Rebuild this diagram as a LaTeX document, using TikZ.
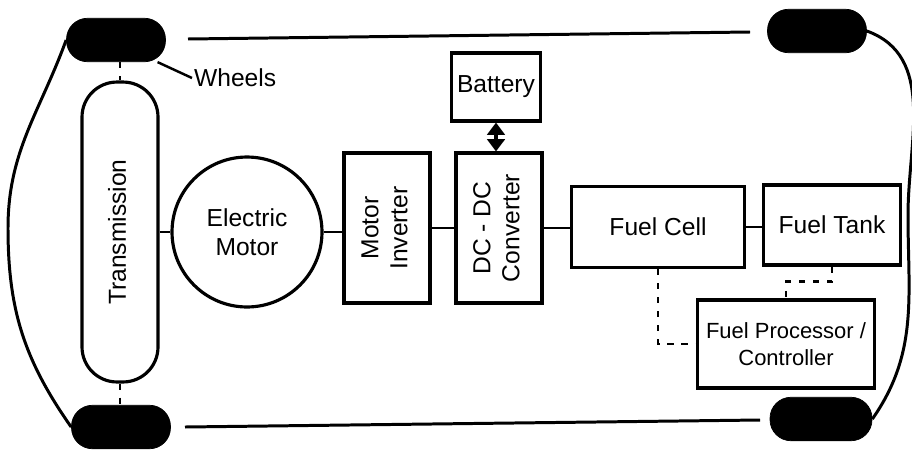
\documentclass[tikz,border=0pt]{standalone}
\usepackage{fontspec}
\setmainfont{Liberation Sans}
\usetikzlibrary{arrows.meta,positioning,calc}
\newcommand{\uptext}[1]{\rotatebox{90}{\begin{tabular}{@{}c@{}}#1\end{tabular}}}

\begin{document}
\begin{tikzpicture}[x=0.02cm,y=-0.02cm,>={Triangle[width=10pt,length=7pt]}]
  \tikzstyle{box}=[draw,line width=1.8pt,align=center,font=\fontsize{14}{16.5}\selectfont]
  \tikzstyle{wheel}=[draw,fill=black,rounded corners=0.42cm,minimum width=1.98cm,minimum height=0.87cm]
  \tikzstyle{body}=[line width=1.7pt]
  \tikzstyle{link}=[line width=1.4pt]
  \tikzstyle{fuelline}=[line width=1.5pt,dash pattern=on 3.5pt off 4.5pt]
  \useasboundingbox (0,0) rectangle (912,450);
  % wheels
  \node[wheel] (wheelTL) at (116,40) {};
  \node[wheel] (wheelBL) at (121,427) {};
  \node[wheel] (wheelTR) at (817,31) {};
  \node[wheel,minimum width=2.04cm] (wheelBR) at (821,419) {};
  \node[anchor=west,inner sep=1pt,font=\fontsize{14}{16.5}\selectfont] (wlabel) at (192,78) {Wheels};
  \draw[link] (wheelTL.-28) -- (wlabel.west);
  % car body
  \draw[body] (188,39) -- (750,32);
  \draw[body] (185,427) -- (760,420);
  \draw[body] (wheelTL.west) to[out=250,in=90] (8,228) to[out=-90,in=125] (wheelBL.west);
  \draw[body] (wheelTR.east) to[out=-20,in=90] (908,215) to[out=-90,in=55] (wheelBR.east);
  % drive train
  \node[box,rounded corners=0.7cm,minimum width=1.52cm,minimum height=6cm] (trans) at (120,232) {\uptext{Transmission}};
  \node[box,circle,minimum size=3cm] (motor) at (247,232) {Electric\\Motor};
  \node[box,minimum width=1.72cm,minimum height=3cm] (inv) at (387,228) {\uptext{Motor\\Inverter}};
  \node[box,minimum width=1.72cm,minimum height=3cm] (dcdc) at (499,228) {\uptext{DC - DC\\Converter}};
  \node[box,minimum width=1.76cm,minimum height=1.36cm] (batt) at (496,87) {Battery};
  \node[box,minimum width=3.46cm,minimum height=1.62cm] (cell) at (658,227) {Fuel Cell};
  \node[box,minimum width=2.74cm,minimum height=1.6cm] (tank) at (832,225) {Fuel Tank};
  \node[box,minimum width=3.54cm,minimum height=1.76cm,font=\fontsize{12.5}{15}\selectfont] (proc) at (786,344) {Fuel Processor /\\Controller};
  \draw[fuelline] (trans.north |- wheelTL.south) -- (trans.north);
  \draw[fuelline] (trans.south) -- (trans.south |- wheelBL.north);
  \draw[link] (trans) -- (motor);
  \draw[link] (motor.east) -- (motor.east -| inv.west);
  \draw[link] (inv) -- (dcdc);
  \draw[link] (dcdc.east) -- (dcdc.east -| cell.west);
  \draw[link] (cell.east) -- (cell.east -| tank.west);
  \draw[<->,line width=2.4pt] (batt) -- (batt |- dcdc.north);
  % fuel lines
  \draw[fuelline] (cell.south) |- (proc.west);
  \draw[fuelline] (tank.south) -- ++(0,15) -| (proc.north);
\end{tikzpicture}
\end{document}
